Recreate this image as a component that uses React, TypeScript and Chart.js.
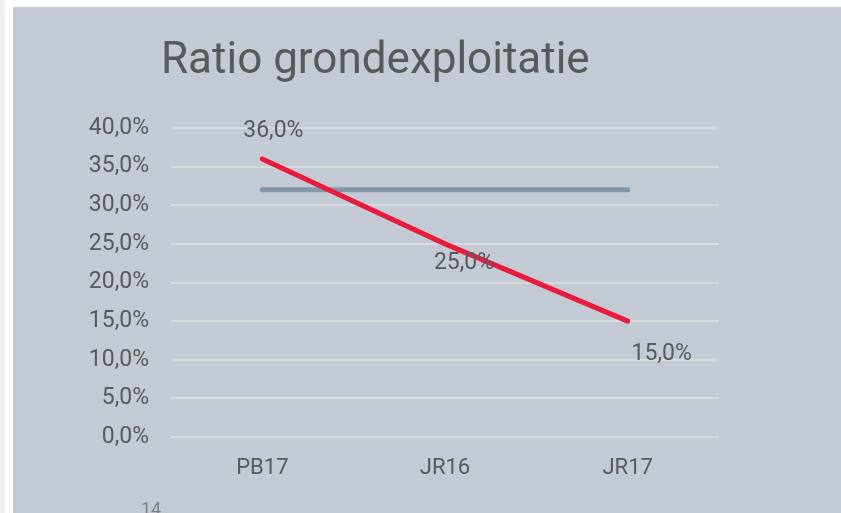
import React, { useEffect, useRef } from "react";
import { Chart, registerables } from "chart.js";

Chart.register(...registerables);

const categories = ["PB17", "JR16", "JR17"];
const ratioValues = [36, 25, 15];
const normValues = [32, 32, 32];
const yTicks = [0, 5, 10, 15, 20, 25, 30, 35, 40];
const titleText = "Ratio grondexploitatie";
const pageNumber = "14";

const FONT = "Roboto, 'Noto Sans', sans-serif";
const TEXT = "#595959";

const fmt = (v: number) => v.toFixed(1).replace(".", ",") + "%";

const labelOffsets = [
  { dx: 11, dy: -28 },
  { dx: 19, dy: 19 },
  { dx: 34, dy: 33 },
];

const titlePlugin = {
  id: "customTitle",
  afterDraw(chart: any) {
    const ctx = chart.ctx;
    ctx.save();
    ctx.font = `44px ${FONT}`;
    ctx.fillStyle = TEXT;
    ctx.textAlign = "left";
    ctx.textBaseline = "alphabetic";
    ctx.fillText(titleText, 148, 66);
    ctx.restore();
  },
};

const labelPlugin = {
  id: "pointLabels",
  afterDatasetsDraw(chart: any) {
    const ctx = chart.ctx;
    const meta = chart.getDatasetMeta(0);
    ctx.save();
    ctx.font = `23px ${FONT}`;
    ctx.fillStyle = TEXT;
    ctx.textAlign = "center";
    ctx.textBaseline = "middle";
    meta.data.forEach((pt: any, i: number) => {
      const o = labelOffsets[i];
      ctx.fillText(fmt(ratioValues[i]), pt.x + o.dx, pt.y + o.dy);
    });
    ctx.restore();
  },
};

export default function App() {
  const ref = useRef<HTMLCanvasElement>(null);
  useEffect(() => {
    if (!ref.current) return;
    const chart = new Chart(ref.current, {
      type: "line",
      data: {
        labels: categories,
        datasets: [
          {
            label: "Ratio",
            data: ratioValues,
            borderColor: "#ea1a3c",
            borderWidth: 5,
            borderCapStyle: "round",
            pointRadius: 0,
            tension: 0,
            order: 1,
          },
          {
            label: "Norm",
            data: normValues,
            borderColor: "#8596a8",
            borderWidth: 5,
            borderCapStyle: "round",
            pointRadius: 0,
            tension: 0,
            order: 2,
          },
        ],
      },
      options: {
        animation: false,
        responsive: false,
        layout: { padding: { left: 0, right: 122, top: 121, bottom: 0 } },
        plugins: {
          legend: { display: false },
          title: { display: false },
          tooltip: { enabled: false },
        },
        scales: {
          x: {
            offset: true,
            grid: { display: false, drawTicks: false },
            border: { display: false },
            ticks: {
              color: TEXT,
              font: { family: FONT, size: 22 },
              padding: 18,
            },
            afterFit(scale: any) {
              scale.height = 76;
            },
          },
          y: {
            min: 0,
            max: 40,
            afterBuildTicks(scale: any) {
              scale.ticks = yTicks.map((v) => ({ value: v }));
            },
            grid: { color: "#d9dadc", lineWidth: 2, drawTicks: false },
            border: { display: false },
            ticks: {
              color: TEXT,
              font: { family: FONT, size: 23 },
              padding: 22,
              callback: (v: any) => fmt(Number(v)),
            },
            afterFit(scale: any) {
              scale.width = 158;
            },
          },
        },
      },
      plugins: [titlePlugin, labelPlugin],
    });
    return () => chart.destroy();
  }, []);

  return (
    <div style={{ position: "fixed", left: 0, top: 0, width: 841, height: 513, background: "#ffffff", overflow: "hidden" }}>
      <div style={{ position: "absolute", left: 0, top: 0, width: 5, height: 513, background: "#eef0f4" }} />
      <div style={{ position: "absolute", left: 13, top: 7, width: 828, height: 506, background: "#c3cad3" }}>
        <canvas ref={ref} width={828} height={506} style={{ display: "block" }} />
        <div
          style={{
            position: "absolute",
            left: 128,
            top: 492,
            fontFamily: FONT,
            fontSize: 18,
            color: "#808080",
            lineHeight: "20px",
          }}
        >
          {pageNumber}
        </div>
      </div>
    </div>
  );
}
